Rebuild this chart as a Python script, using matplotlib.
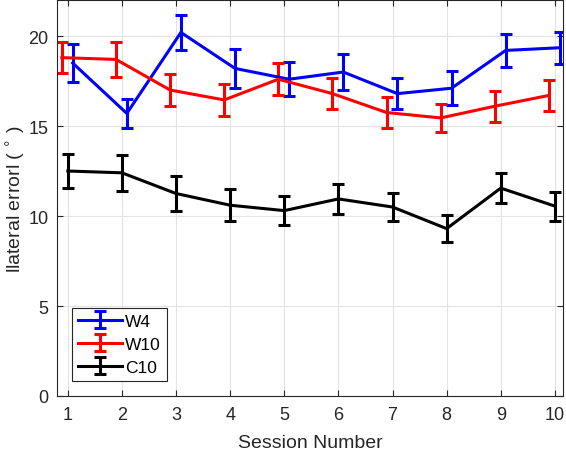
import matplotlib
matplotlib.use('Agg')
import matplotlib.pyplot as plt

plt.rcParams['font.family'] = ['Liberation Sans', 'DejaVu Sans']

sessions = [1, 2, 3, 4, 5, 6, 7, 8, 9, 10]

w4_mean = [18.5, 15.7, 20.2, 18.2, 17.6, 18.0, 16.8, 17.1, 19.2, 19.35]
w4_err = [1.05, 0.8, 0.95, 1.1, 0.95, 1.0, 0.85, 0.95, 0.9, 0.9]

w10_mean = [18.8, 18.7, 17.0, 16.45, 17.6, 16.8, 15.75, 15.45, 16.1, 16.7]
w10_err = [0.85, 0.95, 0.9, 0.9, 0.9, 0.85, 0.85, 0.8, 0.85, 0.85]

c10_mean = [12.5, 12.4, 11.25, 10.6, 10.3, 10.95, 10.5, 9.3, 11.55, 10.55]
c10_err = [0.95, 1.0, 0.95, 0.9, 0.8, 0.85, 0.8, 0.75, 0.85, 0.8]

series = [
    ('W4', w4_mean, w4_err, 'blue', 0.09),
    ('W10', w10_mean, w10_err, 'red', -0.11),
    ('C10', c10_mean, c10_err, 'black', 0.0),
]

fig = plt.figure(figsize=(5.66, 4.52), dpi=100)
ax = fig.add_axes([0.1007, 0.1217, 0.894, 0.876])

for name, mean, err, color, shift in series:
    xs = [s + shift for s in sessions]
    ax.errorbar(xs, mean, yerr=err, color=color, linewidth=2.2,
                elinewidth=2.2, capsize=4.3, capthick=2.2, label=name)

ax.set_xlim(0.8, 10.15)
ax.set_ylim(0, 22)
ax.set_xticks(sessions)
ax.set_yticks([0, 5, 10, 15, 20])

ax.grid(True, color='#e3e3e3', linewidth=0.8)
ax.set_axisbelow(True)
ax.tick_params(direction='in', top=True, right=True, labelsize=13,
               colors='#262626', length=4, pad=7)
ax.tick_params(axis='y', pad=6)
for sp in ax.spines.values():
    sp.set_color('#262626')
    sp.set_linewidth(0.8)

ax.set_xlabel('Session Number', fontsize=14, color='#262626', labelpad=8)
ax.set_ylabel('llateral errorl ( $^{\\circ}$ )', fontsize=14, color='#262626')
ax.yaxis.set_label_coords(-0.058, 0.5)

leg = ax.legend(loc='lower left', bbox_to_anchor=(0.02, 0.025), fontsize=12.5,
                fancybox=False, edgecolor='#262626', framealpha=1,
                handlelength=2.5, borderpad=0.35, labelspacing=0.45,
                handletextpad=0.2, borderaxespad=0.3)
leg.get_frame().set_linewidth(0.8)

fig.savefig('out.png', dpi=100)
